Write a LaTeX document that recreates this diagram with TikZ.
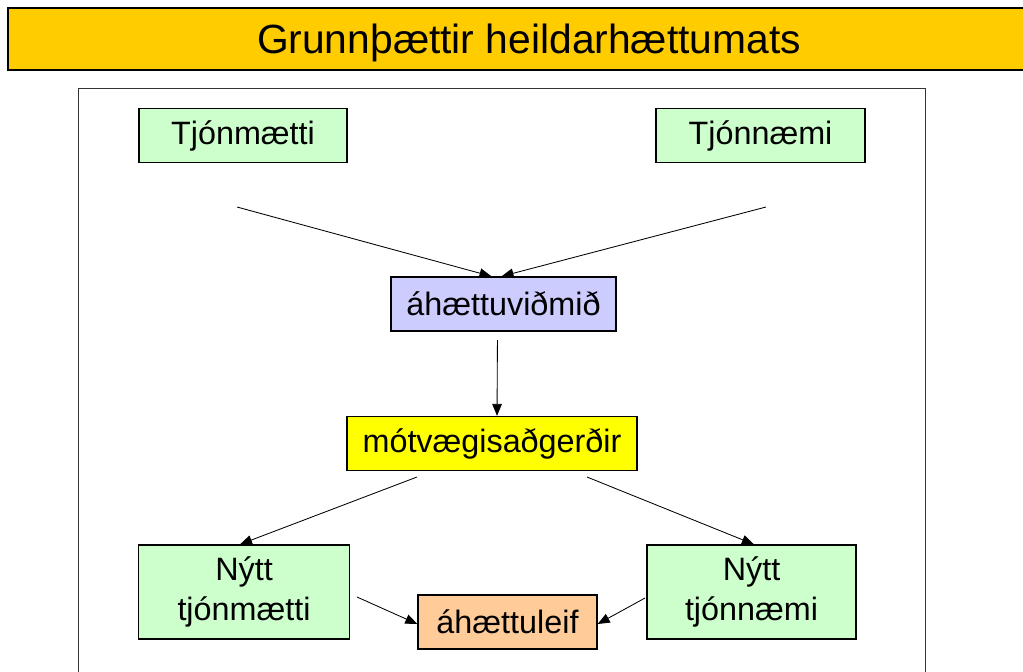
\documentclass[tikz,border=0pt]{standalone}
\usepackage{fontspec}
\setmainfont{Liberation Sans}
\usetikzlibrary{arrows.meta}
\definecolor{titlebar}{HTML}{FFCC00}
\definecolor{grn}{HTML}{CCFFCC}
\definecolor{lav}{HTML}{CCCCFF}
\definecolor{yel}{HTML}{FFFF00}
\definecolor{ora}{HTML}{FFCC99}
\tikzset{
  box/.style={draw, line width=0.9pt, inner sep=0pt, minimum height=1.35cm,
    font=\fontsize{23}{28.7}\selectfont, align=center},
  arr/.style={draw, line width=0.6pt, -{Triangle[length=3mm,width=2.4mm]}}
}
\begin{document}
\begin{tikzpicture}[x=0.025cm,y=-0.025cm]
        \clip (0,0) rectangle (1023,671);
        \fill[white] (0,0) rectangle (1023,671);
        % title bar
        \draw[fill=titlebar, line width=1.2pt] (8,8) rectangle (1040,70);
        \node (title) at (529,42.5) {\fontsize{29}{34}\selectfont Grunnþættir heildarhættumats};
        % frame
        \draw[line width=0.6pt, black!80] (78,88) rectangle (925,700);

        \node[box, fill=grn, minimum width=5.2cm] (tjonmaetti) at (243,135.5) {Tjónmætti};
        \node[box, fill=grn, minimum width=5.225cm] (tjonnaemi) at (760.5,135.5) {Tjónnæmi};
        \node[box, fill=lav, minimum width=5.625cm] (vidmid) at (503.5,304) {áhættuviðmið};
        \node[box, fill=yel, minimum width=7.25cm] (motvaegi) at (492,443.5) {mótvægisaðgerðir};
        \node[box, fill=grn, minimum width=5.275cm, minimum height=2.35cm] (nyttm) at (244,592) {Nýtt\\tjónmætti};
        \node[box, fill=grn, minimum width=5.225cm, minimum height=2.35cm] (nyttn) at (751.5,592) {Nýtt\\tjónnæmi};
        \node[box, fill=ora, minimum width=4.475cm] (leif) at (507.5,622) {áhættuleif};

        \coordinate (a1) at (237,207);
        \coordinate (a2) at (766,207);
        \coordinate (b1) at (417,477);
        \coordinate (b2) at (587,477);
        \coordinate (c1) at (357,597);
        \coordinate (c2) at (645,598);

        \path[arr] (a1) -- ([xshift=-0.3cm]vidmid.north);
        \path[arr] (a2) -- ([xshift=-0.05cm]vidmid.north);
        \path[arr, shorten <=6pt] ([xshift=-0.15cm]vidmid.south) -- ([xshift=0.125cm]motvaegi.north);
        \path[arr] (b1) -- ([xshift=-0.1cm]nyttm.north);
        \path[arr] (b2) -- ([xshift=0.06cm]nyttn.north);
        \path[arr] (c1) -- ([yshift=-0.05cm]leif.west);
        \path[arr] (c2) -- ([yshift=-0.05cm]leif.east);
    \end{tikzpicture}
\end{document}
